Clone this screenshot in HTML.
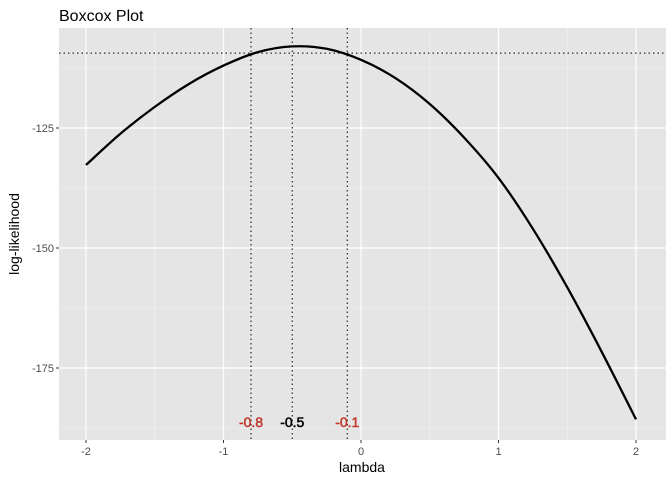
<!DOCTYPE html>
<html><head><meta charset="utf-8"><style>
body{margin:0;background:#fff;}
svg text{font-family:"Liberation Sans",Arial,sans-serif;}
</style></head><body>
<svg width="672" height="480" viewBox="0 0 672 480">
<text x="59" y="21" font-size="16" fill="#000">Boxcox Plot</text>
<rect x="59" y="28" width="607" height="412" fill="#e5e5e5"/>
<g id="grid"></g>
<g id="marks"></g>
<g id="axes"></g>
<text x="362" y="472" font-size="14" text-anchor="middle" fill="#000">lambda</text>
<text transform="translate(19,234) rotate(-90)" font-size="14" text-anchor="middle" fill="#000">log-likelihood</text>
</svg>
<script>
const lambdas=[-2,-1.75,-1.5,-1.25,-1,-0.75,-0.5,-0.25,0,0.25,0.5,0.75,1,1.25,1.5,1.75,2];
const loglik=[-132.7,-126.2,-120.6,-115.8,-112.0,-109.2,-108.0,-108.5,-110.8,-114.6,-120.0,-127.0,-135.4,-146.0,-158.2,-171.6,-185.7];
const xTicks=[-2,-1,0,1,2];
const yTicks=[-125,-150,-175];
const ciLevel=-109.4;
const markers=[-0.8,-0.5,-0.1];
const markerLabels=["-0.8","-0.5","-0.1"];
const markerColors=["#c0392b","#000","#c0392b"];
const NS="http://www.w3.org/2000/svg";
const X=v=>361+(v)*137.5;
const Y=v=>128+(v+125)*(-4.8);
const L=59,R=666,T=28,B=440;
function mk(tag,attrs,parent){const e=document.createElementNS(NS,tag);for(const k in attrs)e.setAttribute(k,attrs[k]);document.getElementById(parent).appendChild(e);return e;}
for(let i=0;i<xTicks.length-1;i++){const m=(xTicks[i]+xTicks[i+1])/2;const e=mk('line',{x1:X(m),x2:X(m),y1:T,y2:B,stroke:'#f2f2f2','stroke-width':0.6},'grid');

}
const yMinor=[-112.5,-137.5,-162.5,-187.5];
yMinor.forEach(v=>{const e=mk('line',{x1:L,x2:R,y1:Y(v),y2:Y(v),stroke:'#f2f2f2','stroke-width':0.6},'grid');

});
xTicks.forEach(v=>{const e=mk('line',{x1:X(v),x2:X(v),y1:T,y2:B,stroke:'#fff','stroke-width':1.2},'grid');


const t=mk('line',{x1:X(v),x2:X(v),y1:B,y2:B+3,stroke:'#333','stroke-width':1},'axes');


const l=mk('text',{x:X(v),y:B+15,'font-size':11,'text-anchor':'middle',fill:'#4d4d4d'},'axes');l.textContent=v;

});
yTicks.forEach(v=>{const e=mk('line',{x1:L,x2:R,y1:Y(v),y2:Y(v),stroke:'#fff','stroke-width':1.2},'grid');


const t=mk('line',{x1:L-3,x2:L,y1:Y(v),y2:Y(v),stroke:'#333','stroke-width':1},'axes');


const l=mk('text',{x:L-5,y:Y(v)+4,'font-size':11,'text-anchor':'end',fill:'#4d4d4d'},'axes');l.textContent=v;

});
const pts=lambdas.map((v,i)=>[X(v),Y(loglik[i])]);
let d='M'+pts[0][0]+','+pts[0][1];
for(let i=0;i<pts.length-1;i++){const p0=pts[Math.max(0,i-1)],p1=pts[i],p2=pts[i+1],p3=pts[Math.min(pts.length-1,i+2)];
d+=' C'+(p1[0]+(p2[0]-p0[0])/6)+','+(p1[1]+(p2[1]-p0[1])/6)+' '+(p2[0]-(p3[0]-p1[0])/6)+','+(p2[1]-(p3[1]-p1[1])/6)+' '+p2[0]+','+p2[1];}
const c=mk('path',{d:d,fill:'none',stroke:'#000','stroke-width':2.3},'marks');


const h=mk('line',{x1:L,x2:R,y1:Y(ciLevel),y2:Y(ciLevel),stroke:'#000','stroke-width':1,'stroke-dasharray':'1.5,3'},'marks');


markers.forEach((v,i)=>{const e=mk('line',{x1:X(v),x2:X(v),y1:T,y2:B,stroke:'#000','stroke-width':1,'stroke-dasharray':'1.5,3'},'marks');


const t=mk('text',{x:X(v),y:427,'font-size':14,'text-anchor':'middle',fill:markerColors[i],stroke:markerColors[i],'stroke-width':0.5},'marks');t.textContent=markerLabels[i];

});
</script>
</body></html>
